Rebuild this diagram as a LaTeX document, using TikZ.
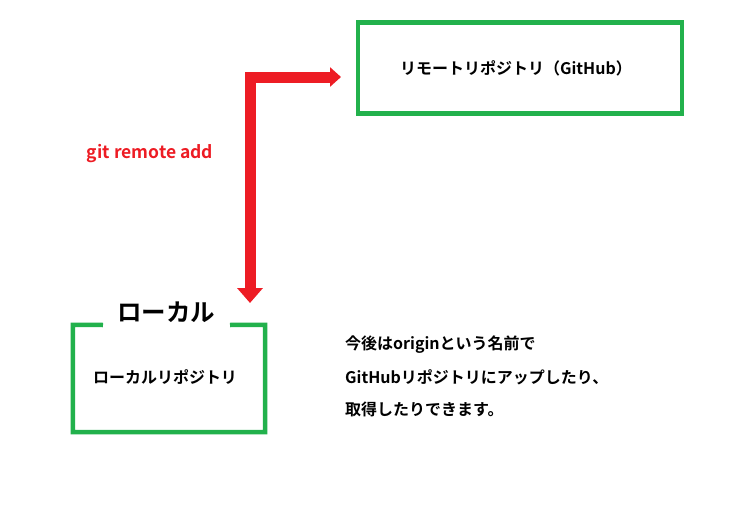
\documentclass[tikz,border=0pt]{standalone}
\usepackage{fontspec}
\setmainfont{Noto Sans CJK JP}[BoldFont=* Bold]
\usetikzlibrary{arrows.meta}
\definecolor{boxgreen}{HTML}{22B14C}
\definecolor{arrred}{HTML}{ED1C24}
\tikzset{
  every node/.style={font=\bfseries, inner sep=0pt},
  greenbox/.style={draw=boxgreen, line width=4.5pt},
  txt/.style={font=\bfseries\fontsize{16}{19}\selectfont},
  bigtxt/.style={font=\bfseries\fontsize{24.5}{28}\selectfont},
  redtxt/.style={font=\bfseries\fontsize{17.5}{20}\selectfont, text=arrred},
  link/.style={draw=arrred, line width=11pt, line join=miter,
    {Triangle[length=15pt,width=25pt]}-{Triangle[length=11pt,width=19pt]}},
}
\begin{document}
\begin{tikzpicture}[x=1pt, y=-1pt]
\useasboundingbox (0,0) rectangle (748,514);
% remote box
\node[greenbox, minimum width=324pt, minimum height=91pt] (remote) at (520,68) {};
\node[txt] (remotelabel) at (516,68) {リモートリポジトリ（GitHub）};
% local box
\node[minimum width=192pt, minimum height=107pt] (local) at (169,378.5) {};
\draw[greenbox, line cap=butt] (103,325) -- (local.north west) -- (local.south west) -- (local.south east) -- (local.north east) -- (230,325);
\node[bigtxt] (localtitle) at (166,312) {ローカル};
\node[txt] (locallabel) at (165,377) {ローカルリポジトリ};
% arrow
\coordinate (lowend) at (250,303);
\coordinate (bend) at (250,77);
\coordinate (highend) at (341,77);
\draw[link] (lowend) -- (bend) -- (highend);
\node[redtxt] (cmd) at (150,154) {git remote add};
% note
\node[txt, anchor=west] (note1) at (345,345) {今後はoriginという名前で};
\node[txt, anchor=west] (note2) at (345,377) {GitHubリポジトリにアップしたり、};
\node[txt, anchor=west] (note3) at (345,409) {取得したりできます。};
\end{tikzpicture}
\end{document}
